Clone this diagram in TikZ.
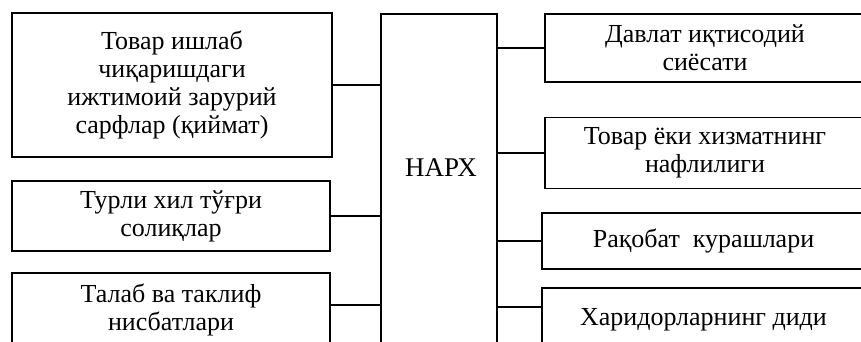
\documentclass[tikz,border=0pt]{standalone}
\usepackage{fontspec}
\setmainfont{Liberation Serif}
\usetikzlibrary{positioning}

\tikzset{
  factor/.style={draw, line width=0.9pt, align=center, inner sep=0pt,
    font=\fontsize{13}{14}\selectfont},
  link/.style={line width=0.9pt},
}

\begin{document}
\begin{tikzpicture}[x=0.5pt,y=-0.5pt]
		\useasboundingbox (0,0) rectangle (861,342);
		\clip (0,0) rectangle (861,342);
		% centre
		\node[draw, line width=0.9pt, minimum width=58pt, minimum height=174pt, anchor=north] (narx) at (439,13) {};
		\node[font=\fontsize{13.5}{16}\selectfont] (narxtext) at (441,168) {НАРХ};
		% left side
		\node[factor, minimum width=160pt, minimum height=72pt] (cost) at (172,85) {Товар ишлаб\\чиқаришдаги\\ижтимоий зарурий\\сарфлар (қиймат)};
		\node[factor, minimum width=159pt, minimum height=35pt] (tax) at (171,216) {Турли хил тўғри\\солиқлар};
		\node[factor, minimum width=159pt, minimum height=37pt] (demand) at (171,310) {Талаб ва таклиф\\нисбатлари};
		% right side
		\node[factor, minimum width=160pt, minimum height=34pt] (policy) at (705,48) {Давлат иқтисодий\\сиёсати};
		\node[factor, minimum width=160pt, minimum height=35.5pt] (utility) at (705,153) {Товар ёки хизматнинг\\нафлилиги};
		\node[factor, minimum width=161.5pt, minimum height=28pt] (rivalry) at (703.5,241) {Рақобат \ курашлари};
		\node[factor, minimum width=161.5pt, minimum height=32pt] (taste) at (703.5,320) {Харидорларнинг диди};
		\path[link]
			(cost.east) edge (cost.east -| narx.west)
			(tax.east) edge (tax.east -| narx.west)
			([yshift=2.5pt]demand.east) edge ([yshift=2.5pt]demand.east -| narx.west)
			(policy.west) edge (policy.west -| narx.east)
			(utility.west) edge (utility.west -| narx.east)
			(rivalry.west) edge (rivalry.west -| narx.east)
			([yshift=6.5pt]taste.west) edge ([yshift=6.5pt]taste.west -| narx.east);
	\end{tikzpicture}
\end{document}
